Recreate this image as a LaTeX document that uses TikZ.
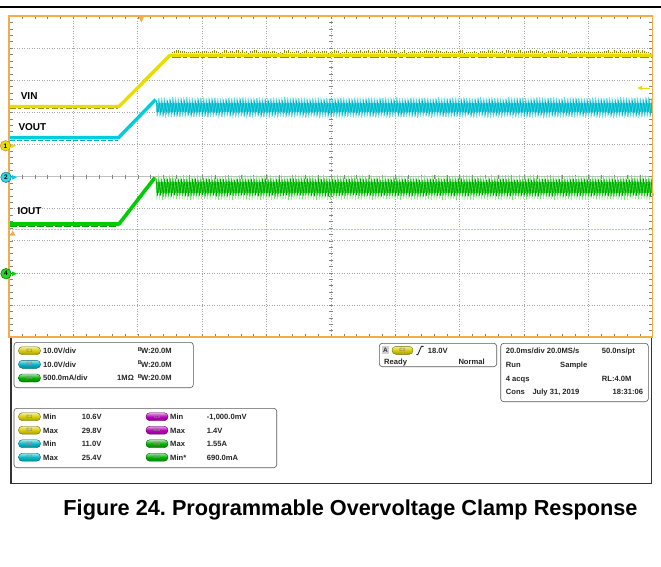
\documentclass[tikz,border=0pt]{standalone}
\usepackage{fontspec}
\setmainfont{Liberation Sans}
\frenchspacing
\definecolor{frameor}{RGB}{243,172,72}
\definecolor{yel}{RGB}{232,220,0}
\definecolor{olv}{RGB}{150,140,20}
\definecolor{cyl}{RGB}{100,222,232}
\definecolor{cyd}{RGB}{0,178,198}
\definecolor{cyc}{RGB}{0,205,218}
\definecolor{grl}{RGB}{120,228,120}
\definecolor{grd}{RGB}{0,165,0}
\definecolor{grc}{RGB}{0,205,0}
\definecolor{gridc}{RGB}{165,165,165}
\definecolor{pillY}{RGB}{215,205,0}
\definecolor{pillC}{RGB}{0,185,200}
\definecolor{pillG}{RGB}{0,175,0}
\definecolor{pillM}{RGB}{185,0,185}
\tikzset{
  gridline/.style={gridc, line width=0.5pt, dotted},
  tickline/.style={gridc!80!black, line width=0.4pt},
  trlbl/.style={anchor=base west, inner sep=0pt, font=\bfseries\fontsize{10}{12}\selectfont},
  lbl/.style={anchor=base west, inner sep=0pt, font=\bfseries\fontsize{7.6}{9}\selectfont, text=black!85},
  lble/.style={anchor=base east, inner sep=0pt, font=\bfseries\fontsize{7.6}{9}\selectfont, text=black!85},
  pill/.style={draw=#1!55!black, line width=0.4pt, rounded corners=3.8pt,
    minimum width=22pt, minimum height=8pt, inner sep=0pt,
    top color=#1!35!white, bottom color=#1!75!black, middle color=#1,
    font=\bfseries\fontsize{4.8}{5}\selectfont, text=black!45},
  chmark/.style={circle, minimum size=10.5pt, inner sep=0pt, line width=0.5pt,
    font=\bfseries\fontsize{6.5}{6.5}\selectfont},
  panelbox/.style={draw=black!65, line width=0.6pt, rounded corners=3pt},
}
\newcommand{\bwtxt}{{\fontsize{5.5}{6}\selectfont\raisebox{2.2pt}{B}}\kern-0.8pt W:20.0M}
\begin{document}
\begin{tikzpicture}[x=1pt,y=-1pt]
\useasboundingbox (0,0) rectangle (661,567);
\fill[white] (0,0) rectangle (661,567);
\pgfmathsetseed{7}
% top rule
\draw[line width=1.3pt] (0,7) -- (661,7);
% graticule
\foreach \k in {1,...,9} {
  \draw[gridline] ({9+64.37*\k},16) -- ({9+64.37*\k},337);
  \draw[gridline] (9,{16+32.1*\k}) -- (652.7,{16+32.1*\k});
}
\draw[gridc!70, line width=0.4pt] (9,176.5) -- (652.7,176.5);
\foreach \k in {1,...,49} {
  \draw[tickline] ({9+12.874*\k},16) -- ++(0,3.5);
  \draw[tickline] ({9+12.874*\k},337) -- ++(0,-3.5);
  \draw[tickline] ({9+12.874*\k},174.5) -- ++(0,4);
}
\foreach \k in {1,...,49} {
  \draw[tickline] (9,{16+6.42*\k}) -- ++(3.5,0);
  \draw[tickline] (652.7,{16+6.42*\k}) -- ++(-3.5,0);
  \draw[tickline] (328.8,{16+6.42*\k}) -- ++(4,0);
}
% orange reference line and markers
\draw[frameor!80, line width=0.5pt, dash pattern=on 2pt off 1pt] (9,229.3) -- (652.7,229.3);
\fill[frameor] (10,235.5) -- (15.5,235.5) -- (12.7,230.5) -- cycle;
\fill[frameor] (138.3,16) -- (144.3,16) -- (141.3,22.5) -- cycle;
% trigger level arrow (right)
\fill[yel] (637.3,88) -- (642,85.8) -- (642,90.2) -- cycle;
\draw[yel, line width=0.7pt] (641,88) -- (649.5,88);

% ---- VIN trace (yellow)
\draw[olv, line width=0.5pt, dash pattern=on 6pt off 2pt on 3pt off 3pt] (10,108.6) -- (118,108.6);
\draw[yel, line width=3.4pt, line join=round] (9,106.5) -- (119,106.5) -- (170,55.3) -- (652,55.3);
\foreach \i in {0,...,239} {
  \draw[olv, line width=0.4pt] ({172+2*\i},53.5) -- ++(0,{-0.8-2.6*rnd});
}
\draw[olv, line width=0.6pt, dash pattern=on 9pt off 2pt on 4pt off 3pt] (172,57.8) -- (652,57.8);

% ---- VOUT trace (cyan)
\draw[cyd, line width=0.5pt, dash pattern=on 5pt off 2pt] (10,139.8) -- (118,139.8);
\draw[cyc, line width=3.4pt, line join=round] (9,137.7) -- (118.5,137.7) -- (155.7,99.5);
\fill[cyc] (156,103.5) rectangle (652.5,112.5);
\draw[cyl, line width=0.5pt] (155.7,99)
  \foreach \i in {1,...,354} { -- ({155.7+1.4*\i},{97.5+20*mod(\i,2)+1.6*rnd-0.8}) };
\draw[cyd, line width=0.6pt] (156.4,101)
  \foreach \i in {1,...,354} { -- ({156.4+1.4*\i},{101+13*mod(\i,2)+1.4*rnd-0.7}) };

% ---- IOUT trace (green)
\draw[grd, line width=0.5pt, dash pattern=on 7pt off 2pt] (10,226) -- (118,226);
\draw[grc, line width=3.6pt, line join=round] (9,224) -- (119,224) -- (155,177.5);
\fill[grc] (155.5,181.5) rectangle (652.5,193);
\draw[grl, line width=0.5pt] (155.5,176)
  \foreach \i in {1,...,355} { -- ({155.5+1.4*\i},{175.5+24*mod(\i,2)+1.6*rnd-0.8}) };
\draw[grd, line width=0.6pt] (156.2,179)
  \foreach \i in {1,...,355} { -- ({156.2+1.4*\i},{179+17*mod(\i,2)+1.4*rnd-0.7}) };

% frame
\draw[frameor, line width=1.5pt] (9,16) rectangle (652.7,337);

% trace labels
\node[trlbl] (lvin) at (20.6,99.8) {VIN};
\node[trlbl] (lvout) at (18.3,130.8) {VOUT};
\node[trlbl] (liout) at (17.3,214.4) {IOUT};

% channel markers
\fill[yel] (11,143.6) -- (16,145.8) -- (11,148) -- cycle;
\node[chmark, fill=yel, draw=frameor!80!black] (m1) at (5.5,145.8) {1};
\fill[cyc] (12,175.1) -- (17,177.3) -- (12,179.5) -- cycle;
\node[chmark, fill=cyc!80!white, draw=cyd!70!black] (m2) at (6,177.3) {2};
\fill[grc] (12,271.5) -- (17,273.7) -- (12,275.9) -- cycle;
\node[chmark, fill=grc!85!white, draw=grd!70!black] (m4) at (6,273.7) {4};

% ---- bottom panel
\draw[black!80, line width=1.2pt] (11,337.8) -- (11,483.3) -- (651.7,483.3) -- (651.7,337.8);

% box 1: channel settings
\draw[panelbox] (14,342.3) rectangle (193.3,387.7);
\node[pill=pillY] (p1) at (29.5,350.7) {C1};
\node[lbl] (t11) at (43,353.5) {10.0V/div};
\node[lbl] (t12) at (137.7,353.5) {\bwtxt};
\node[pill=pillC] (p2) at (29.5,364.3) {C2};
\node[lbl] (t21) at (43,367.1) {10.0V/div};
\node[lbl] (t22) at (137.7,367.1) {\bwtxt};
\node[pill=pillG] (p4) at (29.5,378) {C4};
\node[lbl] (t41) at (43,380.8) {500.0mA/div};
\node[lbl] (t42) at (117,380.8) {1MΩ};
\node[lbl] (t43) at (137.7,380.8) {\bwtxt};

% box 2: measurements
\draw[panelbox] (14,408.3) rectangle (276.7,467.7);
\node[pill=pillY] (q1) at (29.5,416.7) {C1};
\node[lbl] (q1a) at (43,419.5) {Min};
\node[lbl] (q1b) at (81.7,419.5) {10.6V};
\node[pill=pillY] (q2) at (29.5,430.2) {C1};
\node[lbl] (q2a) at (43,433) {Max};
\node[lbl] (q2b) at (81.7,433) {29.8V};
\node[pill=pillC] (q3) at (29.5,443.7) {C2};
\node[lbl] (q3a) at (43,446.5) {Min};
\node[lbl] (q3b) at (81.7,446.5) {11.0V};
\node[pill=pillC] (q4) at (29.5,457.2) {C2};
\node[lbl] (q4a) at (43,460) {Max};
\node[lbl] (q4b) at (81.7,460) {25.4V};
\node[pill=pillM] (r1) at (157,416.7) {C3};
\node[lbl] (r1a) at (170,419.5) {Min};
\node[lbl] (r1b) at (206.7,419.5) {-1,000.0mV};
\node[pill=pillM] (r2) at (157,430.2) {C3};
\node[lbl] (r2a) at (170,433) {Max};
\node[lbl] (r2b) at (206.7,433) {1.4V};
\node[pill=pillG] (r3) at (157,443.7) {C4};
\node[lbl] (r3a) at (170,446.5) {Max};
\node[lbl] (r3b) at (206.7,446.5) {1.55A};
\node[pill=pillG] (r4) at (157,457.2) {C4};
\node[lbl] (r4a) at (170,460) {Min*};
\node[lbl] (r4b) at (206.7,460) {690.0mA};

% box 3: trigger
\draw[panelbox] (379.3,343.3) rectangle (496.7,366.7);
\node[fill=black!18, minimum width=7.5pt, minimum height=8pt, inner sep=0pt,
  font=\bfseries\fontsize{6.5}{7}\selectfont, text=black!80] (ta) at (385.5,350.3) {A};
\node[pill=pillY, minimum width=21pt] (tp) at (402.5,350.3) {C1};
\draw[black!85, line width=0.9pt] (416.3,354.6) -- (417.8,354.6) -- (421.4,346.3) -- (423.6,346.3);
\node[lbl] (tv) at (427.7,353) {18.0V};
\node[lbl] (tr) at (384,364.4) {Ready};
\node[lbl] (tn) at (458.3,364.4) {Normal};

% box 4: timebase
\draw[panelbox] (500.7,343.3) rectangle (648.3,401.7);
\node[lbl] (h1) at (505.7,353.5) {20.0ms/div 20.0MS/s};
\node[lbl] (h2) at (601.7,353.5) {50.0ns/pt};
\node[lbl] (h3) at (505.7,367.8) {Run};
\node[lbl] (h4) at (560,367.8) {Sample};
\node[lbl] (h5) at (505.7,381.1) {4 acqs};
\node[lbl] (h6) at (601.7,381.1) {RL:4.0M};
\node[lbl] (h7) at (505.7,394.5) {Cons};
\node[lbl] (h8) at (532.3,394.5) {July 31, 2019};
\node[lble] (h9) at (643.3,394.5) {18:31:06};

% caption
\node[anchor=base, inner sep=0pt, font=\bfseries\fontsize{21.7}{24}\selectfont] (cap) at (350.5,515) {Figure 24. Programmable Overvoltage Clamp Response};
\end{tikzpicture}
\end{document}
